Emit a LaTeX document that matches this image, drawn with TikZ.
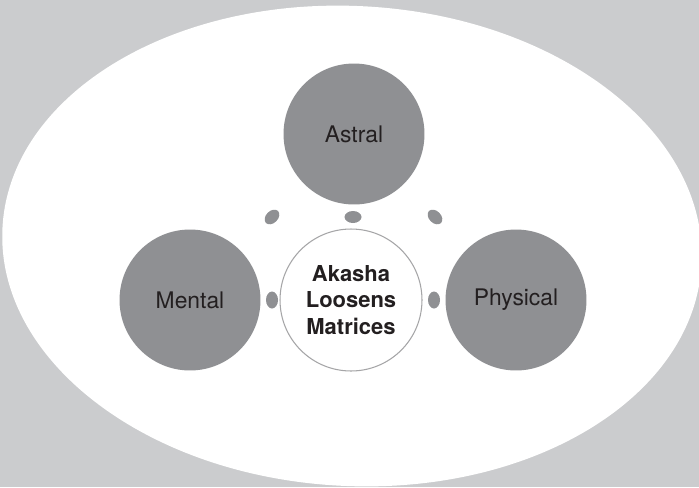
\documentclass[tikz,border=0pt]{standalone}
\usepackage{fontspec}
\setmainfont{TeX Gyre Heros}
\usetikzlibrary{shapes.geometric, calc}
\definecolor{bggray}{RGB}{203,204,206}
\definecolor{ballgray}{RGB}{143,144,147}
\definecolor{rimgray}{RGB}{165,165,167}
\definecolor{inkgray}{RGB}{35,31,32}

\begin{document}
\begin{tikzpicture}[x=0.02cm, y=-0.02cm,
	ball/.style={circle, fill=ballgray, minimum size=2.82cm, inner sep=0pt, text=inkgray, font=\fontsize{13}{15}\selectfont},
	hub/.style={circle, draw=rimgray, line width=0.6pt, fill=white, minimum size=2.84cm, inner sep=0pt, align=center, text=inkgray, font=\bfseries\fontsize{12.5}{15}\selectfont},
	dot/.style={ellipse, fill=ballgray, minimum width=0.34cm, minimum height=0.24cm, inner sep=0pt}]
			% Draw the background
			\fill[bggray] (0,0) rectangle (699,487);
			\useasboundingbox (0,0) rectangle (699,487);

			% Draw the big white ellipse
			\fill[white, rotate around={-3:(352,246)}] (352,246) ellipse [x radius=350, y radius=240];

			% Draw the three outer circles
			\node[ball] (astral) at (354,134) {Astral};
			\node[ball] (mental) at (190,300) {Mental};
			\node[ball] (physical) at (516,300) {Physical};

			% Draw the centre circle
			\node[hub] (akasha) at (351,300) {Akasha\\Loosens\\Matrices};

			% Draw the dots between the circles
			\node[dot, rotate=45] (dam) at ($(astral)!0.5!(mental)$) {};
			\node[dot, rotate=-45] (dap) at ($(astral)!0.5!(physical)$) {};
			\node[dot] (dak) at (353,217) {};
			\node[dot, rotate=90] (dmk) at (272,300) {};
			\node[dot, rotate=90] (dpk) at (434,300) {};

		\end{tikzpicture}
\end{document}
